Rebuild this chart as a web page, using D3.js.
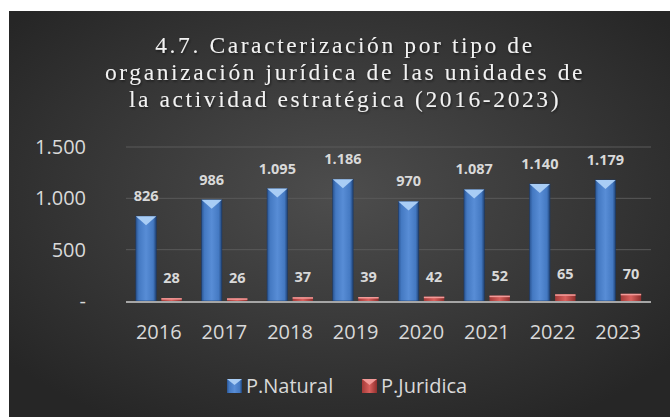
<!DOCTYPE html>
<html>
<head>
<meta charset="utf-8">
<script src="https://cdn.jsdelivr.net/npm/d3@7"></script>
<style>
  body { margin: 0; background: #fff; }
  svg { display: block; }
</style>
</head>
<body>
<script>
// datos del gráfico
var years = ["2016", "2017", "2018", "2019", "2020", "2021", "2022", "2023"];
var natural = [826, 986, 1095, 1186, 970, 1087, 1140, 1179];
var juridica = [28, 26, 37, 39, 42, 52, 65, 70];
var seriesNames = ["P.Natural", "P.Juridica"];
var yTicks = [0, 500, 1000, 1500];
var titleLines = [
  "4.7. Caracterización por tipo de",
  "organización jurídica de las unidades de",
  "la actividad estratégica (2016-2023)"
];

var W = 670, H = 417;
var fmt = function(v) { return v === 0 ? "-" : d3.format(",")(v).replace(/,/g, "."); };
var sans = "Open Sans, Liberation Sans, sans-serif";

var svg = d3.select("body").append("svg")
    .attr("width", W)
    .attr("height", H);

var defs = svg.append("defs");

var bg = defs.append("radialGradient").attr("id", "bg")
    .attr("cx", "50%").attr("cy", "45%").attr("r", "65%");
bg.append("stop").attr("offset", "0%").attr("stop-color", "#4d4d4d");
bg.append("stop").attr("offset", "100%").attr("stop-color", "#262626");

var blue = defs.append("linearGradient").attr("id", "blue");
blue.append("stop").attr("offset", "0%").attr("stop-color", "#2a5593");
blue.append("stop").attr("offset", "15%").attr("stop-color", "#4479c2");
blue.append("stop").attr("offset", "50%").attr("stop-color", "#588dd6");
blue.append("stop").attr("offset", "85%").attr("stop-color", "#4479c2");
blue.append("stop").attr("offset", "100%").attr("stop-color", "#1f4275");

var red = defs.append("linearGradient").attr("id", "red");
red.append("stop").attr("offset", "0%").attr("stop-color", "#a33a38");
red.append("stop").attr("offset", "50%").attr("stop-color", "#d9605d");
red.append("stop").attr("offset", "100%").attr("stop-color", "#8f2f2d");

var shadow = defs.append("filter").attr("id", "tshadow");
shadow.append("feDropShadow").attr("dx", 1).attr("dy", 1.5)
    .attr("stdDeviation", 0.8).attr("flood-color", "#000").attr("flood-opacity", 0.5);

svg.append("rect")
    .attr("x", 9).attr("y", 11)
    .attr("width", W - 9).attr("height", H - 11)
    .attr("fill", "url(#bg)");

// título
svg.append("g").selectAll("text")
  .data(titleLines)
  .enter().append("text")
    .attr("x", 345)
    .attr("y", function(d, i) { return 53 + i * 27; })
    .attr("text-anchor", "middle")
    .attr("font-family", "Liberation Serif, Times New Roman, serif")
    .attr("font-size", 23.5)
    .attr("letter-spacing", 2.6)
    .attr("fill", "#f2f2f2")
    .attr("filter", "url(#tshadow)")
    .text(function(d) { return d; });

var x0 = d3.scaleBand().domain(years).range([126, 651]).paddingInner(0.3).paddingOuter(0.15);
var x1 = d3.scaleBand().domain(seriesNames).range([0, x0.bandwidth()]).paddingInner(0.2);
var y = d3.scaleLinear().domain([0, 1500]).range([301, 147]);

// rejilla
svg.append("g").selectAll("line")
  .data(yTicks.slice(1))
  .enter().append("line")
    .attr("x1", 126).attr("x2", 651)
    .attr("y1", function(d) { return y(d); })
    .attr("y2", function(d) { return y(d); })
    .attr("stroke", "#5a5a5a")
    .attr("stroke-width", 1);

// eje y
svg.append("g").selectAll("text")
  .data(yTicks)
  .enter().append("text")
    .attr("x", 86)
    .attr("y", function(d) { return y(d) + 7; })
    .attr("text-anchor", "end")
    .attr("font-family", sans)
    .attr("font-size", 20)
    .attr("fill", "#d9d9d9")
    .text(fmt);

var groups = svg.append("g").selectAll("g")
  .data(years)
  .enter().append("g")
    .attr("transform", function(d) { return "translate(" + x0(d) + ",0)"; });

var bw = x1.bandwidth();

// barras P.Natural
groups.append("rect")
    .attr("x", x1("P.Natural"))
    .attr("y", function(d, i) { return y(natural[i]); })
    .attr("width", bw)
    .attr("height", function(d, i) { return y(0) - y(natural[i]); })
    .attr("fill", "url(#blue)")
    .attr("stroke", "#1d3a66")
    .attr("stroke-width", 0.6);

groups.append("path")
    .attr("d", function(d, i) {
      var top = y(natural[i]), xl = x1("P.Natural");
      return "M" + xl + "," + top + "L" + (xl + bw) + "," + top +
             "L" + (xl + bw / 2) + "," + (top + 9) + "Z";
    })
    .attr("fill", "#a9cdf5");

// barras P.Juridica
groups.append("rect")
    .attr("x", x1("P.Juridica"))
    .attr("y", function(d, i) { return y(juridica[i]); })
    .attr("width", bw)
    .attr("height", function(d, i) { return y(0) - y(juridica[i]); })
    .attr("fill", "url(#red)");

groups.append("rect")
    .attr("x", x1("P.Juridica"))
    .attr("y", function(d, i) { return y(juridica[i]); })
    .attr("width", bw)
    .attr("height", 1.5)
    .attr("fill", "#f29a98");

// etiquetas de datos
groups.append("text")
    .attr("x", x1("P.Natural") + bw / 2)
    .attr("y", function(d, i) { return y(natural[i]) - 15; })
    .attr("text-anchor", "middle")
    .attr("font-family", sans)
    .attr("font-weight", "bold")
    .attr("font-size", 14.5)
    .attr("fill", "#d9d9d9")
    .text(function(d, i) { return fmt(natural[i]); });

groups.append("text")
    .attr("x", x1("P.Juridica") + bw / 2)
    .attr("y", function(d, i) { return y(juridica[i]) - 15; })
    .attr("text-anchor", "middle")
    .attr("font-family", sans)
    .attr("font-weight", "bold")
    .attr("font-size", 14.5)
    .attr("fill", "#d9d9d9")
    .text(function(d, i) { return fmt(juridica[i]); });

// línea base
svg.append("line")
    .attr("x1", 126).attr("x2", 651)
    .attr("y1", y(0) + 1).attr("y2", y(0) + 1)
    .attr("stroke", "#a6a6a6")
    .attr("stroke-width", 2);

// eje x
groups.append("text")
    .attr("x", x0.bandwidth() / 2)
    .attr("y", 339)
    .attr("text-anchor", "middle")
    .attr("font-family", sans)
    .attr("font-size", 20)
    .attr("fill", "#d9d9d9")
    .text(function(d) { return d; });

// leyenda
var legend = [
  {name: seriesNames[0], x: 227, fill: "url(#blue)", tip: "#a9cdf5"},
  {name: seriesNames[1], x: 362, fill: "url(#red)", tip: "#f29a98"}
];
var lg = svg.append("g").selectAll("g")
  .data(legend)
  .enter().append("g")
    .attr("transform", function(d) { return "translate(" + d.x + ",379)"; });

lg.append("rect")
    .attr("width", 15).attr("height", 14)
    .attr("fill", function(d) { return d.fill; });
lg.append("path")
    .attr("d", "M0,0L15,0L7.5,6Z")
    .attr("fill", function(d) { return d.tip; });
lg.append("text")
    .attr("x", 19).attr("y", 14)
    .attr("font-family", sans)
    .attr("font-size", 20)
    .attr("fill", "#d9d9d9")
    .text(function(d) { return d.name; });
</script>
</body>
</html>
